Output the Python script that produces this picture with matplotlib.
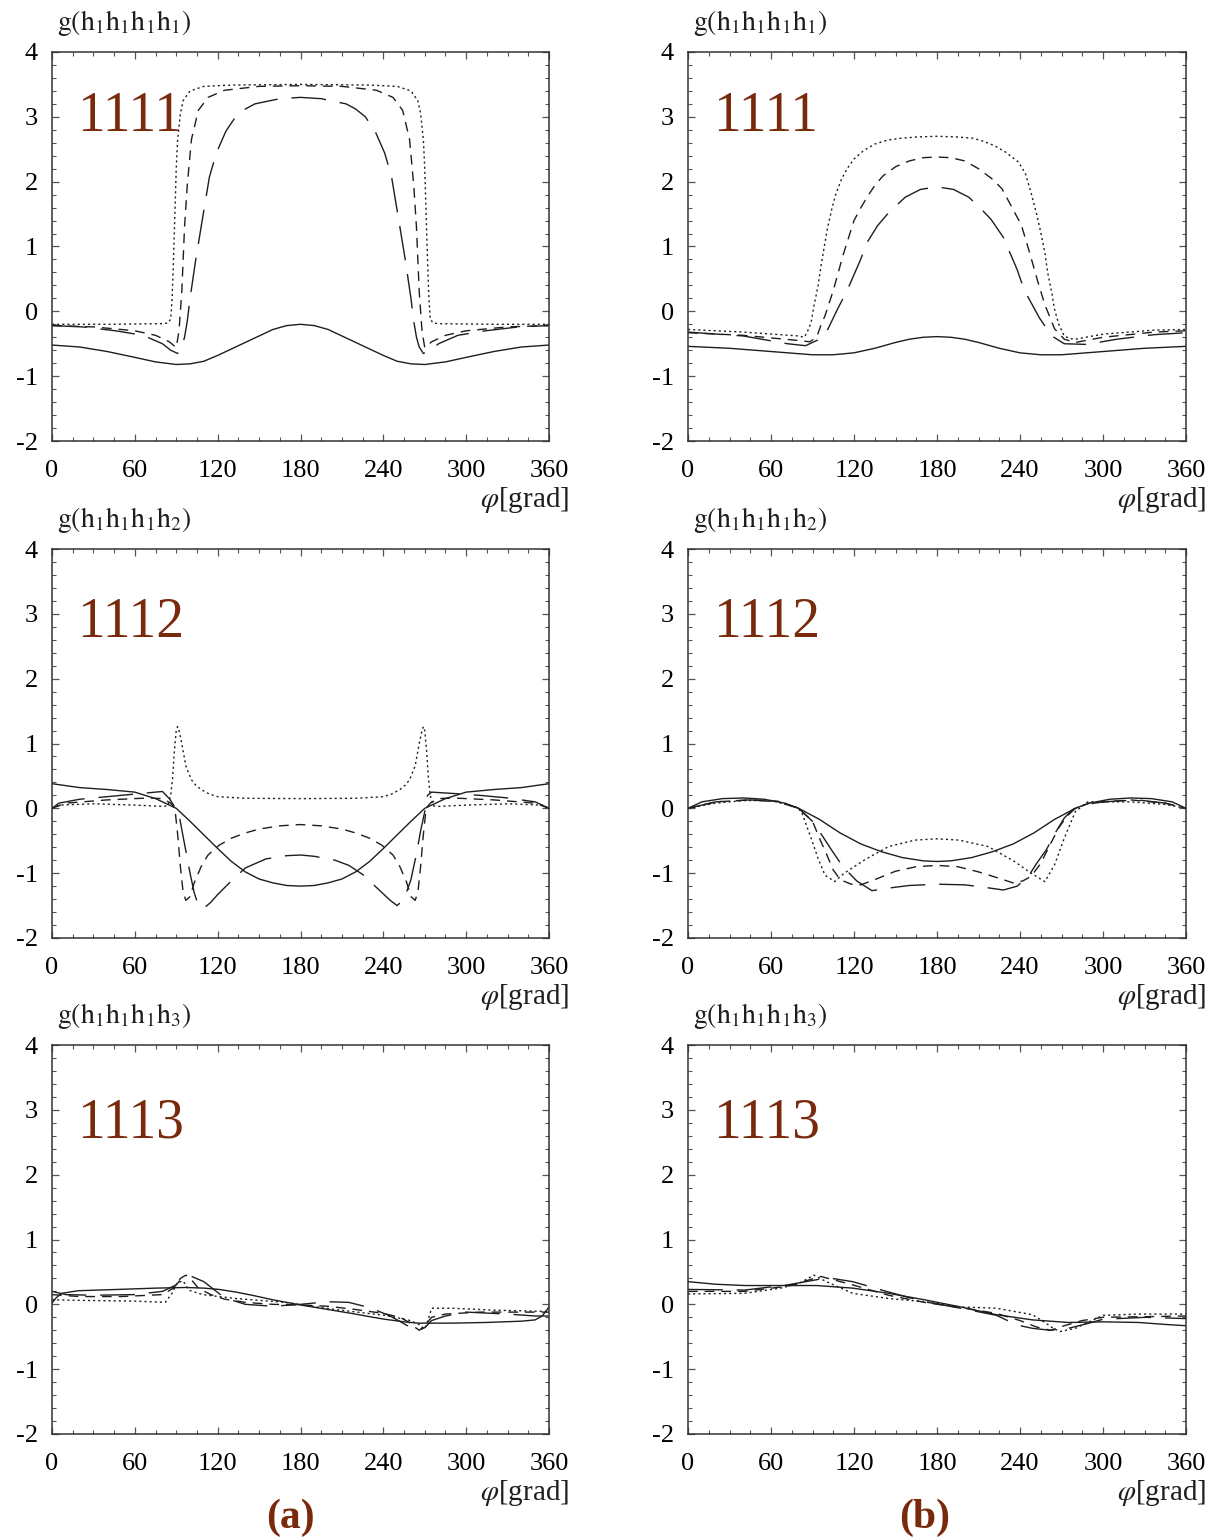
import matplotlib
matplotlib.use("Agg")
import matplotlib.pyplot as plt
from matplotlib.ticker import MultipleLocator

plt.rcParams['font.family'] = ['Liberation Serif', 'DejaVu Serif']
plt.rcParams['mathtext.fontset'] = 'stix'
plt.rcParams['axes.unicode_minus'] = False

# ---- panel (a) 1111 ----
a1_solid_x = [0,20,40,60,75,90,100,110,120,135,150,160,170,180,190,200,210,225,240,250,260,270,285,300,320,340,360]
a1_solid_y = [-0.52,-0.55,-0.62,-0.71,-0.78,-0.82,-0.81,-0.77,-0.68,-0.53,-0.38,-0.28,-0.22,-0.2,-0.22,-0.28,-0.38,-0.53,-0.68,-0.77,-0.81,-0.82,-0.78,-0.71,-0.62,-0.55,-0.52]
a1_dot_x = [0,40,80,84,86,87,88,89,90,91,93,95,100,110,130,180,230,250,260,265,267,269,270,271,272,273,274,276,280,320,360]
a1_dot_y = [-0.2,-0.2,-0.19,-0.18,-0.12,0.2,0.8,1.5,2.2,2.65,3.05,3.25,3.4,3.47,3.49,3.5,3.49,3.47,3.4,3.25,3.05,2.65,2.2,1.5,0.8,0.2,-0.12,-0.18,-0.19,-0.2,-0.2]
a1_sdash_x = [0,30,60,75,85,90,92,94,96,98,101,106,113,125,150,180,210,235,247,254,259,262,264,266,268,270,275,285,300,330,360]
a1_sdash_y = [-0.22,-0.24,-0.3,-0.37,-0.47,-0.56,-0.3,0.3,1.3,1.95,2.65,3.1,3.3,3.41,3.47,3.48,3.47,3.41,3.3,3.1,2.65,1.95,1.3,0.3,-0.3,-0.56,-0.47,-0.37,-0.3,-0.24,-0.22]
a1_ldash_x = [0,22,46,66,80,86,91,94,96,98,100,104,108,114,119,126,133,140,147,165,180,195,213,220,227,234,241,246,252,256,260,262,264,266,269,274,280,294,314,338,360]
a1_ldash_y = [-0.22,-0.24,-0.3,-0.37,-0.5,-0.6,-0.65,-0.55,-0.4,-0.15,0.2,0.78,1.3,2.07,2.44,2.78,3.0,3.12,3.2,3.28,3.3,3.28,3.2,3.12,3.0,2.78,2.44,2.07,1.3,0.78,0.2,-0.15,-0.4,-0.55,-0.65,-0.6,-0.5,-0.37,-0.3,-0.24,-0.22]

# ---- panel (b) 1111 ----
b1_solid_x = [0,30,60,90,105,120,135,150,160,170,180,190,200,210,225,240,255,270,300,330,360]
b1_solid_y = [-0.54,-0.57,-0.62,-0.67,-0.67,-0.64,-0.57,-0.48,-0.43,-0.4,-0.39,-0.4,-0.43,-0.48,-0.57,-0.64,-0.67,-0.67,-0.62,-0.57,-0.54]
b1_dot_x = [0,40,80,84,86,89,91,94,96,99,101,104,107,111,115,120,127,135,144,154,166,180,194,206,214,222,230,239,244,248,252,255,258,260,263,265,268,272,276,280,290,301,337,360]
b1_dot_y = [-0.28,-0.32,-0.38,-0.4,-0.33,-0.17,0.08,0.39,0.68,1.06,1.3,1.58,1.82,2.04,2.2,2.35,2.48,2.58,2.64,2.67,2.69,2.7,2.69,2.67,2.62,2.55,2.45,2.3,2.12,1.83,1.5,1.22,0.9,0.6,0.28,0.03,-0.2,-0.38,-0.42,-0.43,-0.39,-0.35,-0.29,-0.28]
b1_sdash_x = [0,40,80,88,93,96,99,105,112,120,125,130,135,141,150,160,170,180,190,200,210,220,227,236,241,247,253,258,265,272,280,300,337,360]
b1_sdash_y = [-0.33,-0.37,-0.45,-0.47,-0.4,-0.22,-0.07,0.32,0.86,1.4,1.6,1.78,1.94,2.09,2.23,2.32,2.37,2.38,2.37,2.32,2.2,2.04,1.89,1.53,1.33,0.9,0.45,0.1,-0.27,-0.43,-0.48,-0.4,-0.32,-0.3]
b1_ldash_x = [0,40,72,85,95,101,108,115,124,130,137,145,157,168,180,192,203,211,219,228,238,243,254,263,272,288,310,337,360]
b1_ldash_y = [-0.32,-0.38,-0.5,-0.53,-0.43,-0.28,0.03,0.32,0.76,1.08,1.32,1.52,1.76,1.88,1.92,1.88,1.76,1.6,1.42,1.14,0.64,0.33,-0.1,-0.38,-0.5,-0.51,-0.43,-0.36,-0.33]

# ---- panel (a) 1112 ----
a2_solid_x = [0,20,40,60,75,90,100,110,120,130,140,150,160,170,180,190,200,210,220,230,240,250,260,270,285,300,320,340,360]
a2_solid_y = [0.38,0.32,0.29,0.25,0.15,0.0,-0.2,-0.41,-0.62,-0.82,-0.98,-1.09,-1.15,-1.19,-1.2,-1.19,-1.15,-1.09,-0.98,-0.82,-0.62,-0.41,-0.2,0.0,0.15,0.25,0.29,0.32,0.38]
a2_dot_x = [0,5,30,60,80,84,86,87.5,88.5,90,91,92,94,97,101,104,108,114,120,140,180,220,240,246,252,256,259,263,266,268,269,270,271.5,272.5,274,276,280,300,330,355,360]
a2_dot_y = [0.0,0.05,0.07,0.05,0.03,0.04,0.2,0.5,0.85,1.2,1.26,1.2,1.0,0.65,0.44,0.36,0.29,0.22,0.18,0.155,0.15,0.155,0.18,0.22,0.29,0.36,0.44,0.65,1.0,1.2,1.26,1.2,0.85,0.5,0.2,0.04,0.03,0.05,0.07,0.05,0.0]
a2_sdash_x = [0,10,40,70,80,86,89,91,93,95,97,100,103,108,113,121,130,140,150,165,180,195,210,220,230,239,247,252,257,260,263,265,267,269,271,274,280,290,320,350,360]
a2_sdash_y = [0.0,0.08,0.13,0.16,0.15,0.08,0.0,-0.4,-0.9,-1.3,-1.42,-1.36,-1.15,-0.9,-0.72,-0.57,-0.46,-0.38,-0.32,-0.27,-0.25,-0.27,-0.32,-0.38,-0.46,-0.57,-0.72,-0.9,-1.15,-1.36,-1.42,-1.3,-0.9,-0.4,0.0,0.08,0.15,0.16,0.13,0.08,0.0]
a2_ldash_x = [0,5,20,50,70,80,85,89,92,96,100,103,106,110,115,120,128,140,155,170,180,190,205,215,225,235,245,250,255,260,264,267,270,272,275,290,310,330,350,355,360]
a2_ldash_y = [0.0,0.08,0.14,0.2,0.24,0.26,0.15,0.02,-0.1,-0.55,-1.0,-1.3,-1.5,-1.54,-1.45,-1.33,-1.16,-0.92,-0.78,-0.73,-0.72,-0.74,-0.8,-0.88,-1.02,-1.22,-1.42,-1.5,-1.4,-1.1,-0.7,-0.35,-0.05,0.2,0.25,0.23,0.2,0.16,0.1,0.05,0.0]

# ---- panel (b) 1112 ----
b2_solid_x = [0,10,25,40,55,70,80,95,110,125,140,155,170,180,190,205,220,235,250,265,280,290,305,320,335,350,360]
b2_solid_y = [0.0,0.1,0.15,0.16,0.14,0.08,0.0,-0.17,-0.38,-0.55,-0.67,-0.76,-0.81,-0.82,-0.81,-0.76,-0.67,-0.55,-0.38,-0.17,0.0,0.08,0.14,0.16,0.15,0.1,0.0]
b2_dot_x = [0,20,40,60,78,82,89,94,99,106,113,128,145,164,180,196,217,236,248,258,265,272,280,289,320,345,360]
b2_dot_y = [0.0,0.08,0.12,0.12,0.02,-0.05,-0.46,-0.77,-1.03,-1.13,-1.0,-0.79,-0.59,-0.49,-0.47,-0.49,-0.59,-0.82,-1.0,-1.13,-0.87,-0.46,-0.05,0.1,0.1,0.06,0.0]
b2_sdash_x = [0,20,45,65,80,90,95,100,105,110,118,125,135,150,165,180,195,210,225,235,242,248,255,262,268,274,280,290,320,345,360]
b2_sdash_y = [0.0,0.1,0.13,0.11,0.0,-0.2,-0.46,-0.7,-0.95,-1.1,-1.17,-1.18,-1.1,-0.97,-0.9,-0.88,-0.9,-0.98,-1.08,-1.15,-1.12,-1.05,-0.85,-0.55,-0.3,-0.12,0.0,0.08,0.13,0.08,0.0]
b2_ldash_x = [0,20,45,65,80,90,97,104,112,122,133,145,160,180,200,215,228,238,246,252,259,266,272,278,285,300,325,345,360]
b2_ldash_y = [0.0,0.1,0.13,0.1,0.0,-0.2,-0.42,-0.65,-0.9,-1.12,-1.27,-1.23,-1.19,-1.17,-1.18,-1.22,-1.26,-1.2,-1.05,-0.85,-0.64,-0.36,-0.15,-0.02,0.05,0.1,0.13,0.08,0.0]

# ---- panel (a) 1113 ----
a3_solid_x = [0,3,7,19,48,75,97,110,121,133,145,160,180,200,217,230,241,255,265,290,314,340,350,355,358,360]
a3_solid_y = [0.02,0.1,0.17,0.21,0.23,0.25,0.26,0.25,0.23,0.19,0.14,0.07,-0.01,-0.08,-0.14,-0.19,-0.23,-0.27,-0.29,-0.29,-0.28,-0.26,-0.24,-0.18,-0.1,-0.04]
a3_dot_x = [0,24,60,82,87,90.5,95,99,109,133,169,205,241,258,265,270,273,275,290,320,360]
a3_dot_y = [0.07,0.06,0.05,0.03,0.17,0.33,0.36,0.22,0.15,0.09,0.03,-0.08,-0.17,-0.24,-0.3,-0.38,-0.2,-0.06,-0.06,-0.09,-0.11]
a3_sdash_x = [0,20,50,80,88,93,97,101,106,115,125,140,160,180,200,220,240,252,258,262,266,270,275,285,310,340,360]
a3_sdash_y = [0.15,0.12,0.12,0.15,0.25,0.4,0.45,0.38,0.25,0.15,0.08,0.03,0.0,-0.01,-0.03,-0.08,-0.14,-0.2,-0.27,-0.34,-0.4,-0.33,-0.2,-0.15,-0.12,-0.12,-0.12]
a3_ldash_x = [0,10,30,60,80,90,95,100,110,119,125,140,160,180,200,215,230,245,255,262,266,270,275,285,300,330,350,360]
a3_ldash_y = [0.2,0.15,0.14,0.15,0.2,0.3,0.43,0.44,0.35,0.2,0.1,0.0,-0.03,0.0,0.04,0.03,-0.05,-0.18,-0.3,-0.38,-0.4,-0.36,-0.25,-0.18,-0.12,-0.15,-0.18,-0.18]

# ---- panel (b) 1113 ----
b3_solid_x = [0,20,41,65,93,119,145,171,197,223,249,275,300,326,345,360]
b3_solid_y = [0.35,0.31,0.29,0.29,0.29,0.25,0.17,0.07,-0.04,-0.16,-0.24,-0.28,-0.27,-0.28,-0.31,-0.33]
b3_dot_x = [0,41,67,80,91,100,119,145,171,197,223,249,258,264,269,280,290,300,326,360]
b3_dot_y = [0.16,0.17,0.25,0.32,0.45,0.35,0.17,0.09,0.04,-0.04,-0.06,-0.16,-0.28,-0.37,-0.42,-0.37,-0.27,-0.17,-0.15,-0.15]
b3_sdash_x = [0,41,72,96,119,145,171,197,223,240,252,262,272,285,300,331,360]
b3_sdash_y = [0.2,0.2,0.28,0.43,0.3,0.14,0.03,-0.05,-0.14,-0.25,-0.35,-0.4,-0.33,-0.25,-0.2,-0.19,-0.18]
b3_ldash_x = [0,41,72,101,119,145,171,197,223,238,249,262,275,290,300,331,360]
b3_ldash_y = [0.23,0.22,0.3,0.41,0.35,0.19,0.04,-0.06,-0.17,-0.32,-0.37,-0.4,-0.37,-0.29,-0.23,-0.2,-0.22]

panel_labels = ['1111', '1112', '1113']
y_titles = [r'$\mathrm{g(h_1h_1h_1h_1)}$', r'$\mathrm{g(h_1h_1h_1h_2)}$', r'$\mathrm{g(h_1h_1h_1h_3)}$']
column_labels = ['(a)', '(b)']

panels = [
    [(a1_solid_x, a1_solid_y, a1_dot_x, a1_dot_y, a1_sdash_x, a1_sdash_y, a1_ldash_x, a1_ldash_y),
     (b1_solid_x, b1_solid_y, b1_dot_x, b1_dot_y, b1_sdash_x, b1_sdash_y, b1_ldash_x, b1_ldash_y)],
    [(a2_solid_x, a2_solid_y, a2_dot_x, a2_dot_y, a2_sdash_x, a2_sdash_y, a2_ldash_x, a2_ldash_y),
     (b2_solid_x, b2_solid_y, b2_dot_x, b2_dot_y, b2_sdash_x, b2_sdash_y, b2_ldash_x, b2_ldash_y)],
    [(a3_solid_x, a3_solid_y, a3_dot_x, a3_dot_y, a3_sdash_x, a3_sdash_y, a3_ldash_x, a3_ldash_y),
     (b3_solid_x, b3_solid_y, b3_dot_x, b3_dot_y, b3_sdash_x, b3_sdash_y, b3_ldash_x, b3_ldash_y)],
]

brown = '#7a2a0c'
ink = '#1e1e1e'
W, H = 1215, 1540
col_left = [52, 688]
col_width = [497, 498]
row_top = [52, 549, 1045]
ax_h = 389
label_base = [0.797, 0.775, 0.762]

fig = plt.figure(figsize=(W / 100, H / 100), dpi=100)

for r in range(3):
    for c in range(2):
        sx, sy, dx, dy, shx, shy, lx, ly = panels[r][c]
        ax = fig.add_axes([col_left[c] / W, 1 - (row_top[r] + ax_h) / H, col_width[c] / W, ax_h / H])
        ax.plot(sx, sy, color=ink, lw=1.0, ls='-')
        ax.plot(dx, dy, color=ink, lw=1.0, ls=(0, (1.5, 2.2)))
        ax.plot(shx, shy, color=ink, lw=1.0, ls=(0, (7, 5)))
        ax.plot(lx, ly, color=ink, lw=1.0, ls=(0, (25, 10)))
        ax.set_xlim(0, 360)
        ax.set_ylim(-2, 4)
        ax.xaxis.set_major_locator(MultipleLocator(60))
        ax.xaxis.set_minor_locator(MultipleLocator(15))
        ax.yaxis.set_major_locator(MultipleLocator(1))
        ax.yaxis.set_minor_locator(MultipleLocator(0.2))
        ax.tick_params(which='both', direction='in', top=True, right=True, color='#555555', labelsize=19)
        ax.tick_params(which='major', length=5, width=0.9)
        ax.tick_params(which='minor', length=3, width=0.8)
        ax.tick_params(axis='x', pad=14)
        ax.tick_params(axis='y', pad=10)
        for sp in ax.spines.values():
            sp.set_color('#333333')
            sp.set_linewidth(1.1)
        ax.text(0.01, 1.075, y_titles[r], transform=ax.transAxes, fontsize=20, ha='left', va='center', color=ink)
        ax.text(1.04, -0.152, r'$\varphi$[grad]', transform=ax.transAxes, fontsize=21, ha='right', va='center', color=ink)
        ax.text(0.05, label_base[r], panel_labels[r], transform=ax.transAxes, fontsize=40, color=brown,
                ha='left', va='baseline')

for c in range(2):
    xc = (col_left[c] + 238 if c == 0 else col_left[c] + 237) / W
    fig.text(xc, 1 - 1518 / H, column_labels[c], fontsize=30, fontweight='bold', color=brown,
             ha='center', va='center')

fig.savefig('out.png', dpi=100)
